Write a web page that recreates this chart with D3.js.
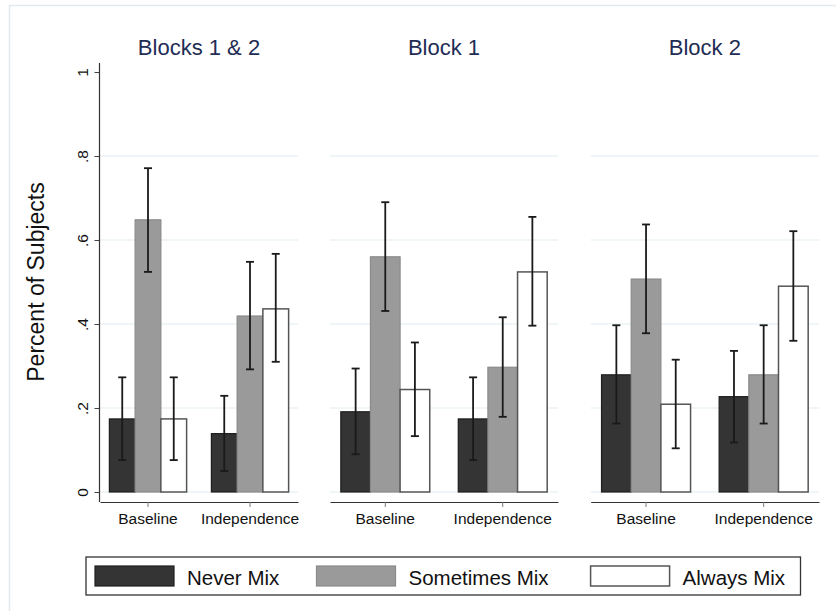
<!DOCTYPE html>
<html>
<head>
<meta charset="utf-8">
<script src="https://cdn.jsdelivr.net/npm/d3@7/dist/d3.min.js"></script>
<style>
  html, body { margin: 0; padding: 0; background: #ffffff; }
  svg { display: block; font-family: "Liberation Sans", Arial, Helvetica, sans-serif; }
</style>
</head>
<body>
<svg id="chart" width="836" height="611"></svg>
<script>
// ---------------- data ----------------
const panels = ["Blocks 1 & 2", "Block 1", "Block 2"];
const categories = ["Baseline", "Independence"];
const series = ["Never Mix", "Sometimes Mix", "Always Mix"];
// order: [P1 Baseline, P1 Independence, P2 Baseline, P2 Independence, P3 Baseline, P3 Independence]
const neverMean     = [0.174, 0.139, 0.191, 0.174, 0.279, 0.227];
const neverLo       = [0.076, 0.050, 0.090, 0.076, 0.163, 0.118];
const neverHi       = [0.273, 0.229, 0.294, 0.273, 0.397, 0.336];
const sometimesMean = [0.648, 0.419, 0.560, 0.297, 0.507, 0.279];
const sometimesLo   = [0.524, 0.292, 0.431, 0.179, 0.378, 0.163];
const sometimesHi   = [0.771, 0.548, 0.690, 0.416, 0.637, 0.397];
const alwaysMean    = [0.174, 0.436, 0.244, 0.524, 0.209, 0.490];
const alwaysLo      = [0.076, 0.310, 0.133, 0.396, 0.104, 0.360];
const alwaysHi      = [0.273, 0.567, 0.356, 0.655, 0.315, 0.621];
const yTicks = [0, 0.2, 0.4, 0.6, 0.8, 1];
const yTickLabels = ["0", ".2", ".4", ".6", ".8", "1"];
const yTitle = "Percent of Subjects";

// ---------------- styling / layout ----------------
const means = [neverMean, sometimesMean, alwaysMean];
const los = [neverLo, sometimesLo, alwaysLo];
const his = [neverHi, sometimesHi, alwaysHi];
const fills = ["#343434", "#9a9a9a", "#ffffff"];
const strokes = ["#1e1e1e", "#8a8a8a", "#555555"];
const panelX = [[100, 298], [330, 558], [590.7, 819]];
const plotTop = 63, plotBottom = 502;

const svg = d3.select("#chart");

// outer frame (light)
svg.append("path")
  .attr("d", "M9.5,611 L9.5,5.5 L836,5.5")
  .attr("fill", "none").attr("stroke", "#e2eaf0").attr("stroke-width", 1.5);

const y = d3.scaleLinear().domain([0, 1]).range([492, 72]);

panels.forEach((pname, pi) => {
  const [px0, px1] = panelX[pi];
  const g = svg.append("g");

  // gridlines
  g.selectAll("line.grid").data(yTicks.filter(t => t < 1)).enter().append("line")
    .attr("x1", px0).attr("x2", px1)
    .attr("y1", d => y(d)).attr("y2", d => y(d))
    .attr("stroke", "#e1ebef").attr("stroke-width", 1);

  const x0 = d3.scaleBand().domain(categories).range([px0, px1])
    .paddingInner(0.243).paddingOuter(0.092);
  const x1 = d3.scaleBand().domain(series).range([0, x0.bandwidth()]);

  // bars
  categories.forEach((cat, ci) => {
    const idx = pi * 2 + ci;
    series.forEach((s, si) => {
      const v = means[si][idx];
      g.append("rect")
        .attr("x", x0(cat) + x1(s))
        .attr("y", y(v))
        .attr("width", x1.bandwidth())
        .attr("height", y(0) - y(v))
        .attr("fill", fills[si])
        .attr("stroke", strokes[si])
        .attr("stroke-width", si === 2 ? 1.5 : 1.2);
    });
  });

  // error bars
  categories.forEach((cat, ci) => {
    const idx = pi * 2 + ci;
    series.forEach((s, si) => {
      const cx = x0(cat) + x1(s) + x1.bandwidth() / 2;
      const lo = y(los[si][idx]), hi = y(his[si][idx]);
      const eg = g.append("g").attr("stroke", "#1a1a1a").attr("stroke-width", 1.8);
      eg.append("line").attr("x1", cx).attr("x2", cx).attr("y1", lo).attr("y2", hi);
      eg.append("line").attr("x1", cx - 4).attr("x2", cx + 4).attr("y1", lo).attr("y2", lo);
      eg.append("line").attr("x1", cx - 4).attr("x2", cx + 4).attr("y1", hi).attr("y2", hi);
    });
  });

  // x axis
  const xa = g.append("g").attr("transform", `translate(0,${plotBottom})`)
    .call(d3.axisBottom(x0).tickSize(5).tickSizeOuter(0));
  xa.select(".domain").attr("stroke", "#333").attr("stroke-width", 1.2);
  xa.selectAll(".tick line").attr("stroke", "#777");
  xa.selectAll(".tick text").attr("y", 11).attr("font-size", "15.5px")
    .attr("fill", "#111").attr("font-family", "Liberation Sans, Arial, sans-serif");

  // panel title
  svg.append("text")
    .attr("x", (px0 + px1) / 2).attr("y", 55)
    .attr("text-anchor", "middle")
    .attr("font-size", "22px").attr("fill", "#1f2d55")
    .text(pname);

  // y axis for first panel
  if (pi === 0) {
    const ya = svg.append("g").attr("transform", `translate(${px0 - 0.5},0)`)
      .call(d3.axisLeft(y).tickValues(yTicks)
        .tickFormat((d, i) => yTickLabels[i]).tickSize(5).tickSizeOuter(0));
    ya.select(".domain").remove();
    ya.selectAll(".tick line").attr("stroke", "#444");
    ya.selectAll(".tick text")
      .attr("x", 0).attr("dy", 0)
      .attr("transform", "translate(-12,0) rotate(-90)")
      .attr("text-anchor", "middle")
      .attr("font-size", "15.5px").attr("fill", "#111")
      .attr("font-family", "Liberation Sans, Arial, sans-serif");
    svg.append("line")
      .attr("x1", px0 - 0.5).attr("x2", px0 - 0.5)
      .attr("y1", plotTop).attr("y2", plotBottom)
      .attr("stroke", "#333").attr("stroke-width", 1.2);
    svg.append("text")
      .attr("transform", `translate(44,${(y(0) + y(1)) / 2}) rotate(-90)`)
      .attr("text-anchor", "middle")
      .attr("font-size", "23px").attr("fill", "#111")
      .text(yTitle);
  }
});

// legend
const legend = svg.append("g");
legend.append("rect")
  .attr("x", 86).attr("y", 557).attr("width", 714.5).attr("height", 38)
  .attr("fill", "#fff").attr("stroke", "#333").attr("stroke-width", 1.3);
const legendX = [95, 316.5, 590.6];
series.forEach((s, si) => {
  legend.append("rect")
    .attr("x", legendX[si]).attr("y", 566).attr("width", 79).attr("height", 20)
    .attr("fill", fills[si]).attr("stroke", strokes[si])
    .attr("stroke-width", si === 2 ? 1.5 : 1.2);
  legend.append("text")
    .attr("x", legendX[si] + 79 + 13).attr("y", 584.5)
    .attr("font-size", "20.5px").attr("fill", "#111")
    .text(s);
});
</script>
</body>
</html>
